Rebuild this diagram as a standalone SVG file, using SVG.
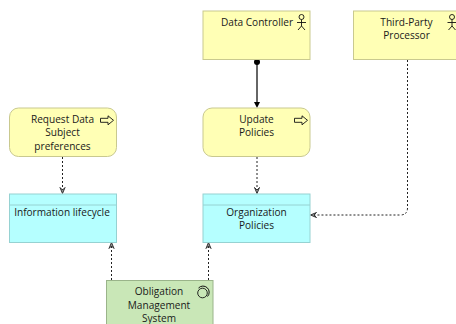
<svg xmlns="http://www.w3.org/2000/svg" width="456" height="324" viewBox="0 0 456 324">
<style>
text{font-family:"Open Sans","Noto Sans","Liberation Sans",sans-serif;font-size:10.100px;fill:#1a1a1a;text-anchor:middle}
.y{fill:#ffffb5;stroke:#c9c98f;stroke-width:1}
.c{fill:#b5ffff;stroke:#96d2d2;stroke-width:1}
.g{fill:#c9e7b7;stroke:#9ab48a;stroke-width:1}
.i{fill:none;stroke:#111;stroke-width:.9}
.d{fill:none;stroke:#222;stroke-width:1;stroke-dasharray:2 2}
.h{fill:#9a9a9a;stroke:#333;stroke-width:1}
</style>
<rect width="456" height="324" fill="#fff"/>
<g id="connectors">
<line x1="257" y1="62" x2="257" y2="104" stroke="#333" stroke-width="1.500"/>
<circle cx="257" cy="62" r="3" fill="#000"/>
<path d="M254 102L260 102L257 108Z" fill="#000"/>
<line class="d" x1="62.500" y1="157" x2="62.500" y2="192"/>
<path class="h" d="M60 187.500L62.500 193.500L65 187.500L62.500 190Z"/>
<line class="d" x1="257" y1="157" x2="257" y2="192"/>
<path class="h" d="M254.500 187.500L257 193.500L259.500 187.500L257 190Z"/>
<path class="d" d="M407.500 60V208Q407.500 215 400 215H312"/>
<path class="h" d="M316.500 212.500L310.500 215L316.500 217.500L314 215Z"/>
<line class="d" x1="111.500" y1="280" x2="111.500" y2="244"/>
<path class="h" d="M109 248.500L111.500 242.500L114 248.500L111.500 246Z"/>
<line class="d" x1="208.500" y1="280" x2="208.500" y2="244"/>
<path class="h" d="M206 248.500L208.500 242.500L211 248.500L208.500 246Z"/>
</g>
<g id="node-data-controller">
<rect class="y" x="203" y="11" width="107" height="48.500"/>
<text x="257" y="26">Data Controller</text>
<g class="i"><circle cx="301.500" cy="17" r="2.500"/><path d="M301.500 19.500V26M297 22.500H306M301.500 26L298 30M301.500 26L305 30"/></g>
</g>
<g id="node-third-party">
<rect class="y" x="353.500" y="11" width="107" height="48.500"/>
<text x="406.500" y="26">Third-Party</text>
<text x="406.500" y="39">Processor</text>
<g class="i"><circle cx="452" cy="17" r="2.500"/><path d="M452 19.500V26M447.500 22.500H456M452 26L448.500 30M452 26L455.500 30"/></g>
</g>
<g id="node-request">
<rect class="y" x="9.500" y="108" width="107" height="48.500" rx="9"/>
<text x="62.500" y="123">Request Data</text>
<text x="62.500" y="136">Subject</text>
<text x="62.500" y="150">preferences</text>
<path class="i" d="M100.500 118.300H108V115.800L113.500 120.300L108 124.800V122.300H100.500Z"/>
</g>
<g id="node-update">
<rect class="y" x="203" y="108" width="107" height="48.500" rx="9"/>
<text x="256.500" y="123">Update</text>
<text x="256.500" y="136">Policies</text>
<path class="i" d="M294.500 118.300H302V115.800L307.500 120.300L302 124.800V122.300H294.500Z"/>
</g>
<g id="node-information">
<rect class="c" x="9.500" y="194" width="107" height="48.500"/>
<line class="c" x1="9.500" y1="205" x2="116.500" y2="205"/>
<text x="62" y="216">Information lifecycle</text>
</g>
<g id="node-organization">
<rect class="c" x="203" y="194" width="107" height="48.500"/>
<line class="c" x1="203" y1="205" x2="310" y2="205"/>
<text x="256.500" y="216">Organization</text>
<text x="256.500" y="229">Policies</text>
</g>
<g id="node-obligation">
<rect class="g" x="106.500" y="280.500" width="106.500" height="48.500"/>
<text x="159" y="295">Obligation</text>
<text x="159" y="309">Management</text>
<text x="159" y="322">System</text>
<g class="i"><circle cx="202.500" cy="293" r="4.800"/><path d="M198.500 288A5.500 5.500 0 0 1 207.500 296.500" stroke-width="1"/></g>
</g>
</svg>
